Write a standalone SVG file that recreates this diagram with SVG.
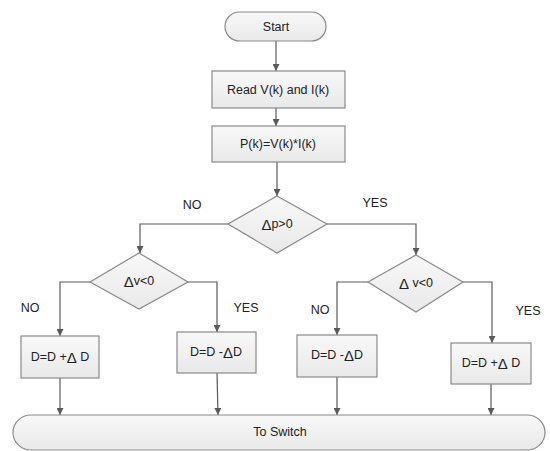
<svg xmlns="http://www.w3.org/2000/svg" width="550" height="451" viewBox="0 0 550 451">
<style>
.n{stroke:#8a8a8a;stroke-width:1.2;fill:url(#g)}
.t{font-family:"Liberation Sans",Arial,sans-serif;font-size:12.5px;fill:#222;text-anchor:middle;dominant-baseline:central}
.l{font-family:"Liberation Sans",Arial,sans-serif;font-size:12.5px;fill:#222;text-anchor:middle;dominant-baseline:central}
.d{font-size:15px}
.ca{stroke:#5a5a5a;stroke-width:1.2;fill:none;marker-end:url(#a)}
</style>
<defs>
<linearGradient id="g" x1="0" y1="0" x2="0" y2="1">
<stop offset="0" stop-color="#f8f8f8"/>
<stop offset="1" stop-color="#e9e9e9"/>
</linearGradient>
<marker id="a" viewBox="0 0 10 10" refX="10" refY="5" markerWidth="7" markerHeight="7" markerUnits="userSpaceOnUse" orient="auto">
<path d="M0,0 L10,5 L0,10 z" fill="#5a5a5a"/>
</marker>
</defs>
<rect width="550" height="451" fill="#fff"/>
<g id="connectors">
<path class="ca" d="M276,41 V71"/>
<path class="ca" d="M276,108 V126"/>
<path class="ca" d="M277,162 V196"/>
<path class="ca" d="M228,224 H140 V253"/>
<path class="ca" d="M327,224 H416 V255"/>
<path class="ca" d="M90,282 H60 V336"/>
<path class="ca" d="M188,282 H217 V332"/>
<path class="ca" d="M368,282 H337 V335"/>
<path class="ca" d="M463,282 H492 V343"/>
<path class="ca" d="M60,378 V415"/>
<path class="ca" d="M217,373 L218,415"/>
<path class="ca" d="M337,377 V415"/>
<path class="ca" d="M491,384 V415"/>
</g>
<g id="start"><rect class="n" x="225" y="12" width="101" height="29" rx="14.5"/><text class="t" x="276" y="27">Start</text></g>
<g id="read"><rect class="n" x="212" y="71" width="133" height="37"/><text class="t" x="278" y="89.5">Read V(k) and I(k)</text></g>
<g id="power"><rect class="n" x="212" y="126" width="133" height="36"/><text class="t" x="278" y="144">P(k)=V(k)*I(k)</text></g>
<g id="dp"><polygon class="n" points="277,196 327,224 277,253 228,224"/><text class="t" x="277" y="224"><tspan class="d">Δ</tspan>p&gt;0</text></g>
<g id="dvl"><polygon class="n" points="139,253 188,282 139,309 90,282"/><text class="t" x="139" y="281"><tspan class="d">Δ</tspan>v&lt;0</text></g>
<g id="dvr"><polygon class="n" points="416,255 463,282 416,312 368,282"/><text class="t" x="416" y="283"><tspan class="d">Δ</tspan> v&lt;0</text></g>
<g id="b1"><rect class="n" x="21" y="336" width="78" height="42"/><text class="t" x="60" y="357">D=D +<tspan class="d">Δ</tspan> D</text></g>
<g id="b2"><rect class="n" x="177" y="332" width="79" height="41"/><text class="t" x="216" y="352">D=D -<tspan class="d">Δ</tspan>D</text></g>
<g id="b3"><rect class="n" x="297" y="335" width="80" height="42"/><text class="t" x="337" y="355">D=D -<tspan class="d">Δ</tspan>D</text></g>
<g id="b4"><rect class="n" x="451" y="343" width="80" height="41"/><text class="t" x="491" y="363">D=D +<tspan class="d">Δ</tspan> D</text></g>
<g id="switch"><rect class="n" x="13" y="415" width="532" height="35" rx="18"/><text class="t" x="280" y="432">To Switch</text></g>
<g id="labels">
<text class="l" x="192" y="205">NO</text>
<text class="l" x="375" y="203">YES</text>
<text class="l" x="30" y="308">NO</text>
<text class="l" x="246" y="308">YES</text>
<text class="l" x="320" y="310">NO</text>
<text class="l" x="528" y="311">YES</text>
</g>
</svg>
